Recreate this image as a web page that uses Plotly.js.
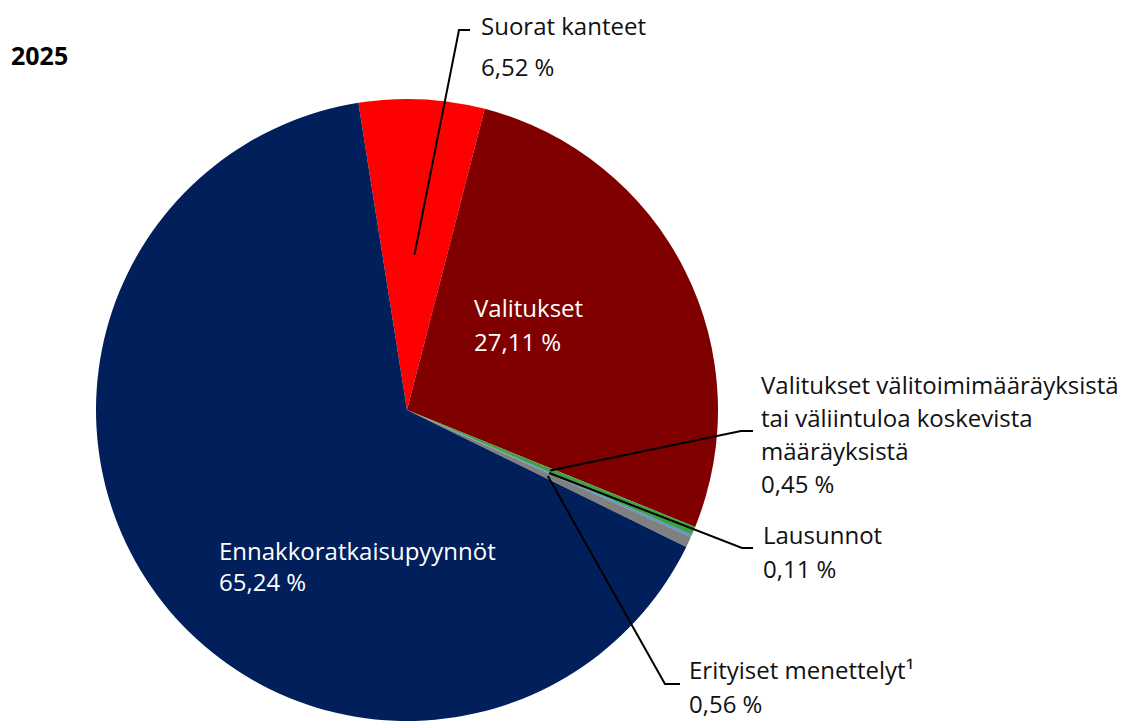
<!DOCTYPE html>
<html><head><meta charset="utf-8">
<script src="https://cdn.plot.ly/plotly-3.0.1.min.js"></script>
<style>html,body{margin:0;padding:0;background:#fff}</style>
</head><body>
<div id="chart" style="width:1123px;height:722px"></div>
<script>
const categories = ["Suorat kanteet", "Valitukset", "Valitukset välitoimimääräyksistä tai väliintuloa koskevista määräyksistä", "Lausunnot", "Erityiset menettelyt¹", "Ennakkoratkaisupyynnöt"];
const values = [6.52, 27.11, 0.45, 0.11, 0.56, 65.24];
const valueLabels = ["6,52 %", "27,11 %", "0,45 %", "0,11 %", "0,56 %", "65,24 %"];
const colors = ["#FF0000", "#800000", "#3FA142", "#5B8FD8", "#808080", "#001F5B"];
const yearTitle = "2025";

const W = 1123, H = 722;
const cx = 407, cy = 410, R = 311;
const rotation = -9;
const FS = 24;
const FONT = "Open Sans, sans-serif";

const px = x => x / W;
const py = y => 1 - y / H;

// point in slice i at fraction f of radius (from data)
const total = values.reduce((a, b) => a + b, 0);
function slicePoint(i, f) {
  let cum = 0;
  for (let k = 0; k < i; k++) cum += values[k];
  const mid = (cum + values[i] / 2) / total;
  const a = (rotation + 360 * mid) * Math.PI / 180;
  return [cx + f * R * Math.sin(a), cy - f * R * Math.cos(a)];
}

const outside = [
  {i: 0, lines: ["Suorat kanteet"], x: 479, ys: [26, 66], elbow: [459, 30], end: [470, 30]},
  {i: 2, lines: ["Valitukset välitoimimääräyksistä", "tai väliintuloa koskevista", "määräyksistä"], x: 759, ys: [384, 417, 450, 483], elbow: [741, 431], end: [753, 431]},
  {i: 3, lines: ["Lausunnot"], x: 761, ys: [534, 568], elbow: [742, 548], end: [753, 548]},
  {i: 4, lines: ["Erityiset menettelyt¹"], x: 687, ys: [669, 703], elbow: [665, 684], end: [680, 684]}
];
const inside = [
  {i: 1, lines: ["Valitukset"], x: 472, ys: [307, 341]},
  {i: 5, lines: ["Ennakkoratkaisupyynnöt"], x: 217, ys: [550, 581]}
];

const annotations = [];
const shapes = [];
function addText(lines, x, ys, color) {
  lines.forEach((t, k) => {
    annotations.push({text: t, x: px(x), y: py(ys[k]), xref: "paper", yref: "paper",
      xanchor: "left", yanchor: "middle", showarrow: false,
      font: {family: FONT, size: FS, color: color}});
  });
}
outside.forEach(o => {
  addText(o.lines.concat([valueLabels[o.i]]), o.x, o.ys, "#111111");
  const p = slicePoint(o.i, 0.5);
  shapes.push({type: "path", xref: "paper", yref: "paper",
    path: `M ${px(p[0])} ${py(p[1])} L ${px(o.elbow[0])} ${py(o.elbow[1])} L ${px(o.end[0])} ${py(o.end[1])}`,
    line: {color: "#000", width: 2}});
});
inside.forEach(o => addText(o.lines.concat([valueLabels[o.i]]), o.x, o.ys, "#ffffff"));

annotations.push({text: "<b>" + yearTitle + "</b>", x: px(9), y: py(55), xref: "paper", yref: "paper",
  xanchor: "left", yanchor: "middle", showarrow: false, font: {family: FONT, size: 25, color: "#000"}});

const trace = {
  type: "pie",
  labels: categories,
  values: values,
  sort: false,
  direction: "clockwise",
  rotation: rotation,
  marker: {colors: colors, line: {width: 0}},
  textinfo: "none",
  hoverinfo: "label+percent",
  showlegend: false,
  domain: {x: [px(cx - R), px(cx + R)], y: [py(cy + R), py(cy - R)]}
};

Plotly.newPlot("chart", [trace], {
  width: W, height: H,
  margin: {l: 0, r: 0, t: 0, b: 0},
  paper_bgcolor: "#fff",
  showlegend: false,
  annotations: annotations,
  shapes: shapes
}, {displayModeBar: false});
</script>
</body></html>
